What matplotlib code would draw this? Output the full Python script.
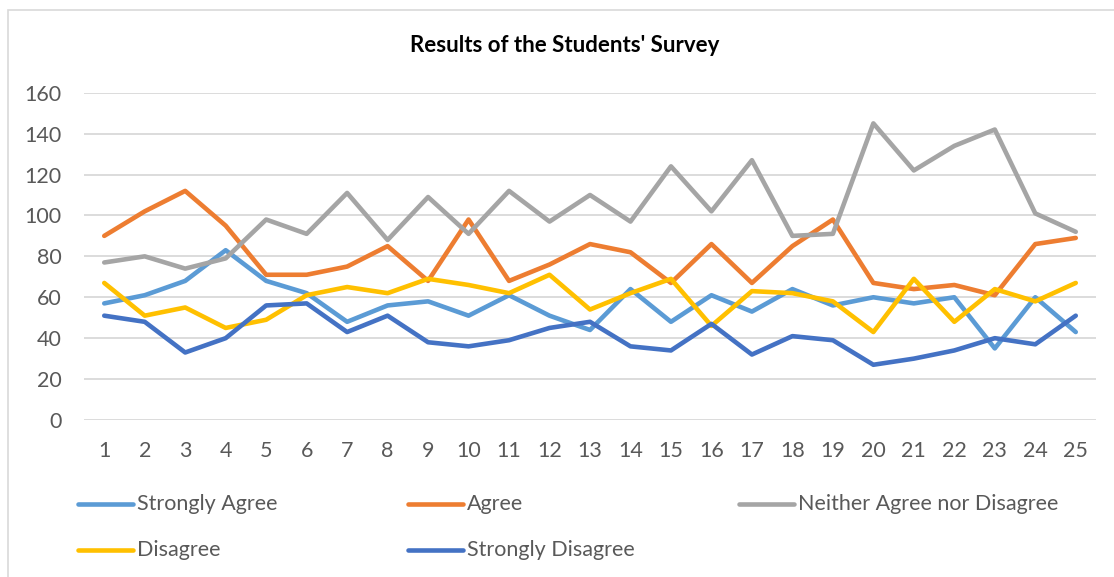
import numpy as np
import matplotlib
matplotlib.use("Agg")
import matplotlib.pyplot as plt
from matplotlib.lines import Line2D
from matplotlib.patches import Rectangle

# survey rounds
rounds = list(range(1, 26))

strongly_agree = [57, 61, 68, 83, 68, 62, 48, 56, 58, 51, 61, 51, 44, 64, 48, 61, 53, 64, 56, 60, 57, 60, 35, 60, 43]
agree = [90, 102, 112, 95, 71, 71, 75, 85, 68, 98, 68, 76, 86, 82, 67, 86, 67, 85, 98, 67, 64, 66, 61, 86, 89]
neither = [77, 80, 74, 79, 98, 91, 111, 88, 109, 91, 112, 97, 110, 97, 124, 102, 127, 90, 91, 145, 122, 134, 142, 101, 92]
disagree = [67, 51, 55, 45, 49, 61, 65, 62, 69, 66, 62, 71, 54, 62, 69, 46, 63, 62, 58, 43, 69, 48, 64, 58, 67]
strongly_disagree = [51, 48, 33, 40, 56, 57, 43, 51, 38, 36, 39, 45, 48, 36, 34, 47, 32, 41, 39, 27, 30, 34, 40, 37, 51]

series_names = ["Strongly Agree", "Agree", "Neither Agree nor Disagree", "Disagree", "Strongly Disagree"]
series_values = [strongly_agree, agree, neither, disagree, strongly_disagree]
colors = ["#5B9BD5", "#ED7D31", "#A5A5A5", "#FFC000", "#4472C4"]

yticks = [0, 20, 40, 60, 80, 100, 120, 140, 160]

plt.rcParams['font.family'] = ['Lato', 'DejaVu Sans']
text_col = "#595959"

W, H = 1114, 577
fig = plt.figure(figsize=(W / 100, H / 100), dpi=100)

# chart frame
fig.add_artist(Rectangle((8 / W, -0.01), 1.1, (H - 10) / H + 0.01, transform=fig.transFigure,
                         fill=False, edgecolor="#D9D9D9", linewidth=1.2))

ax = fig.add_axes([84 / W, (H - 420) / H, (1096 - 84) / W, (420 - 92.7) / H])

for vals, col in zip(series_values, colors):
    ax.plot(rounds, vals, color=col, linewidth=3.3, solid_capstyle='round', solid_joinstyle='round', zorder=3)

ax.set_xlim(0.5, 25.5)
ax.set_ylim(0, 160)
ax.set_yticks(yticks)
ax.set_xticks(rounds)
ax.yaxis.grid(True, color="#D9D9D9", linewidth=1.3)
ax.set_axisbelow(True)
for s in ax.spines.values():
    s.set_visible(False)
ax.tick_params(axis='both', length=0, labelsize=15.5, colors=text_col)
ax.tick_params(axis='y', pad=16)
ax.tick_params(axis='x', pad=15)

fig.text(565 / W, 1 - 45 / H, "Results of the Students' Survey", ha='center', va='center',
         fontsize=16, fontweight='bold', color="black")

# legend, drawn by hand to match the column layout
leg_x = [78, 408, 739, 78, 408]
leg_y = [504, 504, 504, 550, 550]
for name, col, lx, ly in zip(series_names, colors, leg_x, leg_y):
    fig.add_artist(Line2D([lx / W, (lx + 55) / W], [1 - ly / H, 1 - ly / H], transform=fig.transFigure,
                          color=col, linewidth=3.3, solid_capstyle='round'))
    fig.text((lx + 59) / W, 1 - ly / H, name, ha='left', va='center', fontsize=15.5, color=text_col)

fig.savefig("out.png", dpi=100)
